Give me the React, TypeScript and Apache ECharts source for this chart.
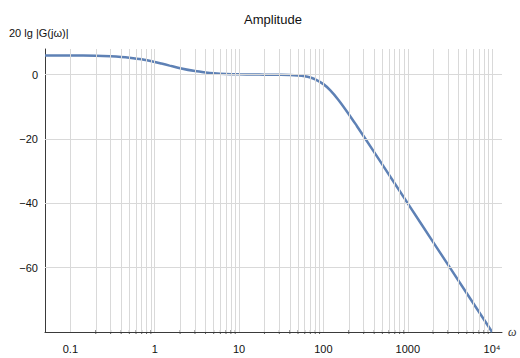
import React, { useEffect, useRef } from 'react';
import * as echarts from 'echarts';

// Frequency samples (rad/s) and amplitude in dB
const omega = [0.05, 0.1, 0.2, 0.3, 0.4, 0.5, 0.7, 1, 1.2, 1.5, 2, 3, 4, 5, 7, 10, 15, 20, 30, 40, 50, 60, 70, 80, 100, 120, 150, 200, 250, 300, 500, 1000, 2000, 5000, 10000];
const gainDb = [6.01, 5.99, 5.89, 5.74, 5.55, 5.31, 4.79, 3.98, 3.48, 2.84, 2.04, 1.14, 0.71, 0.47, 0.25, 0.13, 0.06, 0.03, -0.01, -0.07, -0.22, -0.47, -0.87, -1.41, -2.92, -4.79, -7.76, -12.26, -16.0, -19.12, -27.96, -40.0, -52.04, -67.96, -80.0];

const xMin = 0.05;
const xMax = 13100;
const yMin = -80;
const yMax = 8;

const xTickValues = [0.1, 1, 10, 100, 1000, 10000];
const xTickLabels = ['0.1', '1', '10', '100', '1000', '10⁴'];
const xMinorValues = [
  0.2, 0.3, 0.4, 0.5, 0.6, 0.7, 0.8, 0.9,
  2, 3, 4, 5, 6, 7, 8, 9,
  20, 30, 40, 50, 60, 70, 80, 90,
  200, 300, 400, 500, 600, 700, 800, 900,
  2000, 3000, 4000, 5000, 6000, 7000, 8000, 9000,
];
const yTickValues = [-60, -40, -20, 0];
const yTickLabels = ['−60', '−40', '−20', '0'];

const FONT = '"Liberation Sans", Arial, Helvetica, sans-serif';
const CURVE = '#5E81B5';
const GRID = '#d9d9d9';
const AXIS = '#3a3a3a';

function labelForX(v: number): string {
  for (let i = 0; i < xTickValues.length; i++) {
    if (Math.abs(Math.log10(v) - Math.log10(xTickValues[i])) < 1e-6) return xTickLabels[i];
  }
  return '';
}
function labelForY(v: number): string {
  for (let i = 0; i < yTickValues.length; i++) {
    if (Math.abs(v - yTickValues[i]) < 1e-6) return yTickLabels[i];
  }
  return '';
}

export default function App() {
  const ref = useRef<HTMLDivElement>(null);
  useEffect(() => {
    if (!ref.current) return;
    const chart = echarts.init(ref.current, undefined, { renderer: 'svg' });
    const curveData = omega.map((w, i) => [w, gainDb[i]]);
    const gridLines = [
      ...xTickValues.map((v) => ({ xAxis: v })),
      ...xMinorValues.map((v) => ({ xAxis: v })),
      ...yTickValues.map((v) => ({ yAxis: v })),
    ];
    chart.setOption({
      animation: false,
      backgroundColor: '#ffffff',
      title: {
        text: 'Amplitude',
        left: 268,
        top: 8,
        textAlign: 'center',
        textStyle: { fontFamily: FONT, fontSize: 13, fontWeight: 'normal', color: '#111' },
      },
      graphic: [
        {
          type: 'text',
          left: 9,
          top: 27,
          style: { text: '20 lg |G(jω)|', fontFamily: FONT, fontSize: 11, fill: '#111' },
        },
      ],
      grid: { left: 45, right: 18, top: 49, bottom: 26, containLabel: false },
      xAxis: {
        type: 'log',
        logBase: 10,
        min: xMin,
        max: xMax,
        name: 'ω',
        nameLocation: 'end',
        nameGap: 6,
        nameTextStyle: { fontFamily: 'serif', fontStyle: 'italic', fontSize: 12, color: '#333', verticalAlign: 'middle' },
        axisLine: { show: true, onZero: false, lineStyle: { color: AXIS, width: 1 } },
        axisTick: { show: true, inside: true, length: 5, customValues: xTickValues, lineStyle: { color: AXIS } },
        axisLabel: {
          show: true,
          customValues: xTickValues,
          formatter: (v: number) => labelForX(v),
          margin: 11,
          fontFamily: FONT,
          fontSize: 11,
          color: '#111',
        },
        splitLine: { show: false },
        minorTick: { show: false },
      },
      yAxis: {
        type: 'value',
        min: yMin,
        max: yMax,
        interval: 20,
        axisLine: { show: true, onZero: false, lineStyle: { color: AXIS, width: 1 } },
        axisTick: { show: true, inside: true, length: 5, customValues: yTickValues, lineStyle: { color: AXIS } },
        axisLabel: {
          show: true,
          customValues: yTickValues,
          formatter: (v: number) => labelForY(v),
          margin: 7,
          fontFamily: FONT,
          fontSize: 11,
          color: '#111',
        },
        splitLine: { show: false },
      },
      series: [
        {
          type: 'line',
          name: 'grid',
          data: [],
          z: 1,
          silent: true,
          markLine: {
            silent: true,
            symbol: ['none', 'none'],
            label: { show: false },
            emphasis: { disabled: true },
            lineStyle: { color: GRID, width: 1, type: 'solid' },
            data: gridLines,
          },
        },
        {
          type: 'scatter',
          name: 'minorTicks',
          data: xMinorValues.map((v) => [v, yMin]),
          symbol: 'rect',
          symbolSize: [1, 4],
          itemStyle: { color: AXIS },
          silent: true,
          z: 4,
        },
        {
          type: 'line',
          name: 'amplitude',
          data: curveData,
          showSymbol: false,
          smooth: 0.3,
          lineStyle: { color: CURVE, width: 2.5 },
          itemStyle: { color: CURVE },
          z: 3,
        },
      ],
    });
    return () => chart.dispose();
  }, []);
  return <div ref={ref} style={{ width: 520, height: 358, position: 'absolute', left: 0, top: 0 }} />;
}
